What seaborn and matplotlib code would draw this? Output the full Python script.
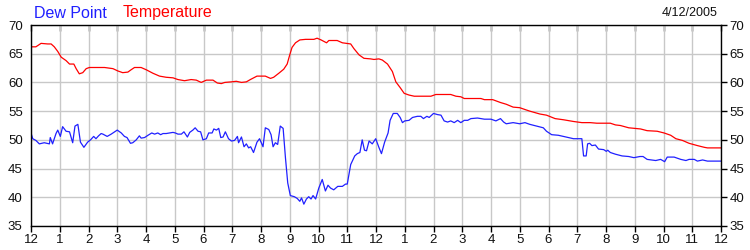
import numpy as np
import pandas as pd
import matplotlib
matplotlib.use("Agg")
import matplotlib.pyplot as plt
import seaborn as sns

# ---- data (hours after midnight, deg F) ----
dew_hours = [0.00, 0.06, 0.17, 0.29, 0.46, 0.64, 0.67, 0.75, 0.87, 0.93, 1.02, 1.10, 1.22, 1.34, 1.45,
             1.53, 1.63, 1.72, 1.84, 1.97, 2.07, 2.18, 2.26, 2.35, 2.44, 2.50, 2.65, 2.79, 3.00, 3.14,
             3.25, 3.34, 3.46, 3.54, 3.66, 3.77, 3.83, 3.95, 4.07, 4.20, 4.30, 4.41, 4.51, 4.59, 4.70,
             4.82, 4.94, 5.02, 5.11, 5.23, 5.32, 5.44, 5.52, 5.63, 5.71, 5.81, 5.90, 5.98, 6.10, 6.18,
             6.30, 6.36, 6.45, 6.53, 6.60, 6.68, 6.76, 6.87, 6.97, 7.08, 7.18, 7.22, 7.32, 7.41, 7.49,
             7.57, 7.64, 7.74, 7.86, 7.95, 8.07, 8.15, 8.27, 8.35, 8.42, 8.50, 8.58, 8.67, 8.77, 8.85,
             8.93, 9.02, 9.16, 9.26, 9.35, 9.41, 9.49, 9.58, 9.66, 9.74, 9.81, 9.90, 10.01, 10.13, 10.24,
             10.33, 10.42, 10.53, 10.67, 10.83, 10.94, 11.00, 11.12, 11.26, 11.35, 11.44, 11.52, 11.60,
             11.67, 11.76, 11.87, 11.99, 12.10, 12.19, 12.30, 12.42, 12.49, 12.60, 12.74, 12.84, 12.92,
             13.00, 13.15, 13.27, 13.44, 13.56, 13.65, 13.77, 13.85, 14.00, 14.14, 14.26, 14.37, 14.49,
             14.60, 14.72, 14.84, 14.95, 15.07, 15.19, 15.30, 15.53, 15.77, 16.00, 16.17, 16.33, 16.44,
             16.53, 16.77, 17.00, 17.18, 17.35, 17.58, 17.82, 17.93, 18.11, 18.34, 18.52, 18.69, 18.87,
             19.16, 19.22, 19.31, 19.36, 19.43, 19.51, 19.63, 19.74, 19.92, 20.01, 20.06, 20.15, 20.33,
             20.56, 20.79, 20.97, 21.18, 21.29, 21.43, 21.73, 21.90, 22.04, 22.13, 22.37, 22.60, 22.78,
             22.89, 23.07, 23.18, 23.36, 23.53, 23.77, 24.00]
dew_point = [51.2, 50.2, 49.9, 49.3, 49.5, 49.3, 50.4, 49.3, 51.1, 51.7, 50.6, 52.3, 51.5, 51.4, 49.5,
             52.4, 52.7, 49.6, 48.7, 49.6, 50.0, 50.6, 50.2, 50.7, 51.1, 51.0, 50.6, 51.0, 51.7, 51.2,
             50.6, 50.4, 49.4, 49.5, 50.0, 50.7, 50.3, 50.4, 50.8, 51.2, 51.0, 51.2, 50.9, 51.1, 51.1,
             51.2, 51.3, 51.2, 51.0, 51.0, 51.4, 50.5, 51.3, 51.7, 52.1, 51.5, 51.4, 50.0, 50.2, 51.2,
             51.2, 51.9, 51.7, 52.0, 50.4, 50.5, 51.4, 50.2, 49.8, 49.9, 50.6, 49.5, 50.5, 48.8, 49.3,
             48.6, 48.8, 47.8, 49.6, 50.2, 48.8, 52.1, 51.8, 50.9, 48.8, 49.5, 49.2, 52.4, 52.0, 46.9,
             42.5, 40.3, 40.1, 39.8, 39.3, 39.9, 38.8, 39.7, 40.1, 39.7, 40.3, 39.7, 41.6, 43.1, 41.1,
             42.1, 41.6, 41.3, 41.9, 41.9, 42.3, 42.3, 45.7, 47.2, 47.6, 47.8, 50.0, 48.2,
             48.1, 49.8, 49.3, 50.2, 48.7, 47.6, 49.6, 51.2, 53.4, 54.6, 54.6, 53.9, 53.0,
             53.3, 53.4, 53.9, 54.1, 54.1, 53.7, 54.1, 53.9, 54.6, 54.4, 54.3, 53.3, 53.1,
             53.3, 53.0, 53.4, 53.0, 53.4, 53.4, 53.7, 53.8, 53.6, 53.6, 53.3, 53.7, 53.1,
             52.8, 53.0, 52.8, 53.0, 52.7, 52.4, 52.1, 51.5, 50.9, 50.8, 50.6, 50.4, 50.2,
             50.2, 47.2, 47.2, 49.3, 49.4, 49.0, 49.1, 48.4, 48.3, 48.0, 48.2, 47.8, 47.5,
             47.2, 47.1, 46.9, 47.1, 47.1, 46.6, 46.4, 46.6, 46.2, 47.0, 47.0, 46.6, 46.4,
             46.6, 46.6, 46.3, 46.5, 46.3, 46.3, 46.3]

temp_hours = [0.00, 0.17, 0.35, 0.58, 0.70, 0.81, 0.93, 1.05, 1.22, 1.34, 1.49, 1.57, 1.68, 1.80, 1.92,
              2.03, 2.32, 2.56, 2.85, 3.02, 3.19, 3.37, 3.48, 3.60, 3.83, 4.01, 4.24, 4.47, 4.70, 4.94,
              5.11, 5.34, 5.57, 5.75, 5.92, 6.10, 6.33, 6.48, 6.62, 6.74, 6.97, 7.14, 7.32, 7.49, 7.63,
              7.86, 8.15, 8.33, 8.44, 8.62, 8.79, 8.91, 9.00, 9.08, 9.20, 9.35, 9.55, 9.84, 9.95, 10.09,
              10.28, 10.36, 10.65, 10.83, 11.12, 11.23, 11.41, 11.58, 11.81, 11.93, 12.10, 12.22, 12.40,
              12.57, 12.69, 12.84, 12.98, 13.15, 13.33, 13.91, 14.08, 14.60, 14.78, 14.95, 15.07, 15.65,
              15.77, 16.06, 16.33, 16.53, 16.77, 17.00, 17.23, 17.35, 17.70, 17.93, 18.23, 18.52, 18.87,
              19.16, 19.45, 19.68, 20.15, 20.33, 20.50, 20.79, 21.20, 21.43, 21.78, 22.02, 22.25, 22.43,
              22.66, 22.89, 23.18, 23.42, 23.53, 24.00]
temperature = [66.2, 66.2, 66.8, 66.7, 66.7, 66.2, 65.4, 64.4, 63.8, 63.2, 63.2, 62.4, 61.5, 61.7, 62.4,
               62.6, 62.6, 62.6, 62.4, 62.0, 61.7, 61.8, 62.2, 62.6, 62.6, 62.2, 61.6, 61.1, 60.9, 60.8,
               60.5, 60.3, 60.5, 60.4, 60.0, 60.4, 60.4, 59.9, 59.8, 60.0, 60.1, 60.2, 60.0, 60.1, 60.5,
               61.1, 61.1, 60.7, 60.9, 61.6, 62.3, 63.2, 64.8, 66.1, 66.9, 67.4, 67.5, 67.5, 67.7, 67.4,
               66.9, 67.3, 67.3, 66.9, 66.7, 65.9, 64.8, 64.2, 64.1, 64.0, 64.1, 63.9, 63.2,
               61.9, 60.1, 59.1, 58.1, 57.8, 57.6, 57.6, 57.9, 57.9, 57.6, 57.5, 57.2, 57.2,
               57.0, 57.0, 56.5, 56.2, 55.7, 55.6, 55.2, 55.0, 54.5, 54.3, 53.7, 53.5, 53.2,
               53.0, 53.0, 52.9, 52.9, 52.6, 52.5, 52.1, 51.9, 51.6, 51.5, 51.2, 50.8, 50.2,
               49.9, 49.4, 49.0, 48.7, 48.6, 48.6]

hour_ticks = list(range(0, 25))
hour_labels = ["12", "1", "2", "3", "4", "5", "6", "7", "8", "9", "10", "11",
               "12", "1", "2", "3", "4", "5", "6", "7", "8", "9", "10", "11", "12"]
y_ticks = [35, 40, 45, 50, 55, 60, 65, 70]
date_label = "4/12/2005"

sns.set_theme(style="white")
plt.rcParams["font.family"] = ["Liberation Sans", "DejaVu Sans"]

fig = plt.figure(figsize=(7.5, 2.5), dpi=100)
ax = fig.add_axes([31 / 750, 1 - 226 / 250, 690 / 750, 201 / 250])

df_dew = pd.DataFrame({"hour": dew_hours, "value": dew_point})
df_tmp = pd.DataFrame({"hour": temp_hours, "value": temperature})
sns.lineplot(data=df_dew, x="hour", y="value", ax=ax, color="#2020ff", linewidth=0.9)
sns.lineplot(data=df_tmp, x="hour", y="value", ax=ax, color="#ff0000", linewidth=0.9)

ax.set_xlim(0, 24)
ax.set_ylim(35, 70)
ax.set_xticks(hour_ticks)
ax.set_xticklabels(hour_labels)
ax.set_yticks(y_ticks)
ax.set_xlabel("")
ax.set_ylabel("")
ax.grid(True, color="#c8c8c8", linewidth=1.0)
ax.set_axisbelow(True)
for s in ax.spines.values():
    s.set_color("black")
    s.set_linewidth(1.0)

ax.tick_params(axis="x", which="both", bottom=True, top=False, direction="out", length=4,
               width=1, color="black", labelsize=9.5, pad=2, labelcolor="#101010")
ax.tick_params(axis="y", left=False, right=True, labelleft=True, labelright=True,
               direction="out", length=4, width=1, color="black", labelsize=9.5, pad=2,
               labelcolor="#101010")

sec = ax.secondary_xaxis("top")
sec.set_xticks(hour_ticks)
sec.tick_params(direction="in", length=4, width=1, color="black", labeltop=False)
sec.spines["top"].set_visible(False)

fig.text(34 / 750, 1 - 13 / 250, "Dew Point", color="#2020ff", fontsize=11.5, va="center", ha="left")
fig.text(123 / 750, 1 - 13 / 250, "Temperature", color="#ff0000", fontsize=11.5, va="center", ha="left")
fig.text(718 / 750, 1 - 13 / 250, date_label, color="#101010", fontsize=9, va="center", ha="right")

fig.savefig("out.png", dpi=100)
